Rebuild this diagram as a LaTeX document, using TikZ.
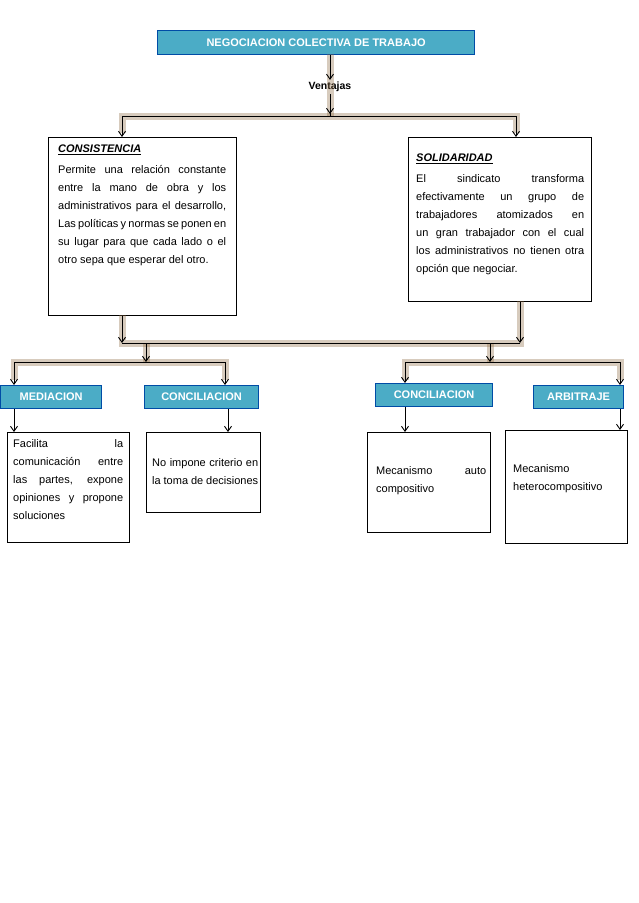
\documentclass[tikz,border=0pt]{standalone}
\usepackage{fontspec}
\setmainfont{Liberation Sans}
\usetikzlibrary{arrows.meta}
\hyphenpenalty=10000
\exhyphenpenalty=10000
\begin{document}
\begin{tikzpicture}[x=1pt,y=-1pt,
  hdr/.style={draw=blue!50!black!70!cyan,line width=1.2pt,fill={rgb,255:red,75;green,172;blue,198},text=white,font=\fontsize{11}{13}\selectfont\bfseries,inner sep=0pt},
  bt/.style={anchor=north west,align=justify,font=\fontsize{11}{18}\selectfont,inner sep=0pt},
  box/.style={draw,line width=1.3pt,anchor=north west},
  glow/.style={line width=7pt,draw={rgb,255:red,140;green,105;blue,65},opacity=0.35},
  con/.style={line width=0.9pt,-{Straight Barb[length=5pt,width=7pt]}},
  ln/.style={line width=0.9pt}]
\useasboundingbox (0,0) rectangle (638,903);
\node[hdr,minimum width=317,minimum height=24,anchor=north west] (t) at (157,30) {NEGOCIACION COLECTIVA DE TRABAJO};
\node[font=\fontsize{10.5}{12}\selectfont\bfseries,inner sep=2pt] (v) at (330,87) {Ventajas};
% top boxes
\node[box,minimum width=188,minimum height=178] (c) at (48,137) {};
\node[bt,text width=168] (ct) at (58,145)
{\textbf{\textit{\underline{CONSISTENCIA}}}\\[3pt]Permite una relación constante entre la mano de obra y los administrativos para el desarrollo, Las políticas y normas se ponen en su lugar para que cada lado o el otro sepa que esperar del otro.};
\node[box,minimum width=183,minimum height=164] (s) at (408,137) {};
\node[bt,text width=168] (st) at (416,154)
{\textbf{\textit{\underline{SOLIDARIDAD}}}\\[3pt]El sindicato transforma efectivamente un grupo de trabajadores atomizados en un gran trabajador con el cual los administrativos no tienen otra opción que negociar.};
% glows
\draw[glow] (330,54) -- (330,116);
\draw[glow] (122,133)--(122,116) -- (516,116)--(516,133);
\draw[glow] (122,315) -- (122,343) -- (520,343) -- (520,301);
\draw[glow] (146,343)--(146,362) (490,343)--(490,362);
\draw[glow] (14,380)--(14,362)--(225,362)--(225,380) (405,380)--(405,362)--(620,362)--(620,380);
% buttons
\node[hdr,minimum width=101,minimum height=23,anchor=north west] (m) at (0,385) {MEDIACION\hspace{20pt}};
\node[hdr,minimum width=114,minimum height=23,anchor=north west] (c1) at (144,385) {CONCILIACION};
\node[hdr,minimum width=117,minimum height=23,anchor=north west] (c2) at (375,383) {CONCILIACION};
\node[hdr,minimum width=90,minimum height=23,anchor=north west] (a) at (533,385) {ARBITRAJE};
% lower boxes
\node[box,minimum width=122,minimum height=110] (b1) at (7,432) {};
\node[bt,text width=110] at (13,439) {Facilita la comunicación entre las partes, expone opiniones y propone soluciones};
\node[box,minimum width=114,minimum height=80] (b2) at (146,432) {};
\node[bt,text width=106] at (152,458) {No impone criterio en la toma de decisiones};
\node[box,minimum width=123,minimum height=100] (b3) at (367,432) {};
\node[bt,text width=110] at (376,466) {Mecanismo auto compositivo};
\node[box,minimum width=122,minimum height=113] (b4) at (505,430) {};
\node[bt,text width=112,align=left] at (513,464) {Mecanismo\\heterocompositivo};
% connectors
\draw[con] (t.south -| v) -- (v.north);
\draw[ln] (v.south) -- (330,116);
\draw[con] (330,100) -- (330,114);
\draw[ln] (122,116) -- (516,116);
\draw[con] (122,116) -- (c.north -| 122,0);
\draw[con] (516,116) -- (s.north -| 516,0);
\coordinate (j1) at (122,343); \coordinate (j2) at (520,343);
\draw[con] (c.south -| 122,0) -- (j1);
\draw[con] (s.south -| 520,0) -- (j2);
\draw[ln] (j1) -- (j2);
\draw[con] (146,343) -- (146,362);
\draw[con] (490,343) -- (490,362);
\draw[ln] (14,362) -- (225,362) (405,362) -- (620,362);
\draw[con] (14,362) -- (m.north -| 14,0);
\draw[con] (225,362) -- (c1.north -| 225,0);
\draw[con] (405,362) -- (c2.north -| 405,0);
\draw[con] (620,362) -- (a.north -| 620,0);
\draw[con] (m.south -| 14,0) -- (b1.north -| 14,0);
\draw[con] (c1.south -| 228,0) -- (b2.north -| 228,0);
\draw[con] (c2.south -| 405,0) -- (b3.north -| 405,0);
\draw[con] (a.south -| 620,0) -- (b4.north -| 620,0);
\end{tikzpicture}
\end{document}
